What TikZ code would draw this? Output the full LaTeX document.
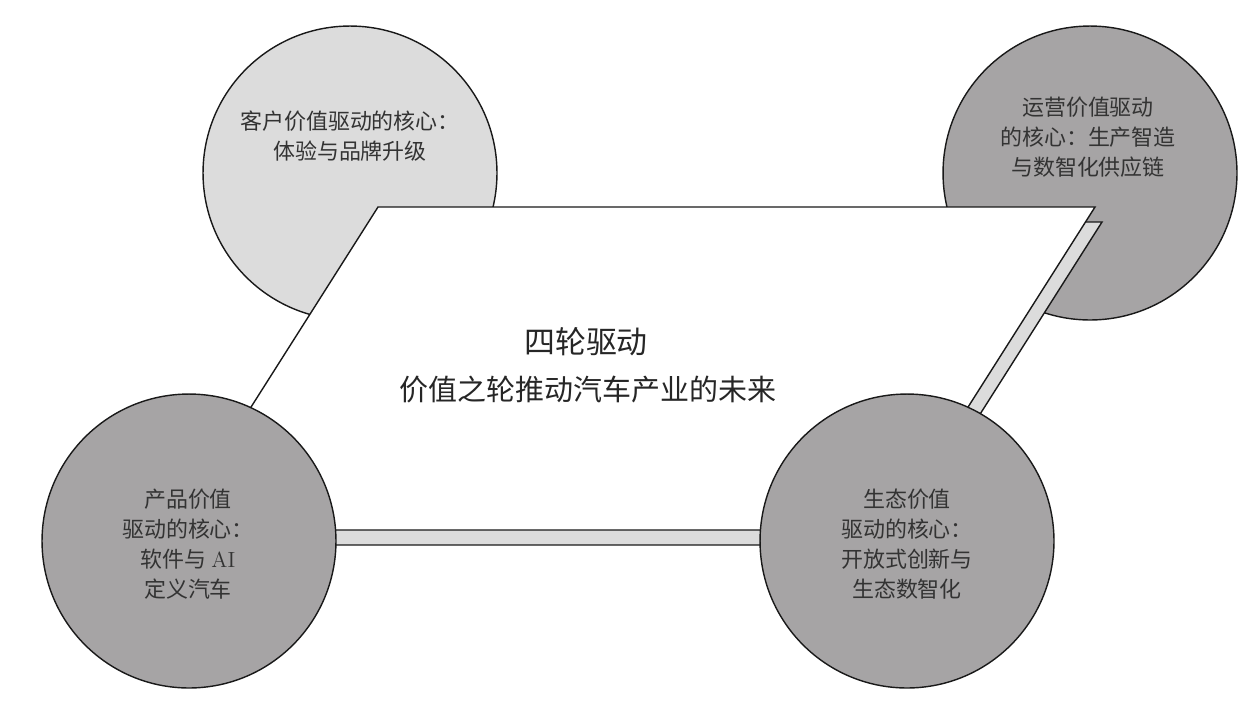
\documentclass[tikz,border=0pt]{standalone}
\usepackage{fontspec}
\newfontfamily\cjk{Noto Sans CJK SC}
\definecolor{wheellight}{HTML}{DCDCDC}
\definecolor{wheeldark}{HTML}{A6A4A5}
\begin{document}
\begin{tikzpicture}[x=0.02cm,y=-0.02cm,
    wheel/.style={circle,draw=black!90,line width=0.8pt,minimum size=5.88cm,inner sep=0pt},
    wheeltext/.style={align=center,text=black!80,font=\cjk\fontsize{12.5}{17}\selectfont},
    slab/.style={draw=black!90,line width=0.8pt,line join=miter}]
    \useasboundingbox (0,0) rectangle (1260,708);

%top wheels
    \node[wheel,fill=wheellight] (cust) at (350,173) {};
    \node[wheel,fill=wheeldark] (oper) at (1090,173) {};

%slab
    \coordinate (tl) at (378,207);
    \coordinate (tr) at (1095,207);
    \coordinate (br) at (890,530);
    \coordinate (bl) at (173,530);
    \draw[slab,fill=wheellight] ([shift={(7,15)}]tl) -- ([shift={(7,15)}]tr) -- ([shift={(7,15)}]br) -- ([shift={(7,15)}]bl) -- cycle;
    \draw[slab,fill=white] (tl) -- (tr) -- (br) -- (bl) -- cycle;

%bottom wheels
    \node[wheel,fill=wheeldark] (prod) at (189,541) {};
    \node[wheel,fill=wheeldark] (eco) at (907,541) {};

%texts
    \node[wheeltext] (custtext) at (350,136) {客户价值驱动的核心：\\体验与品牌升级};
    \node[wheeltext] (opertext) at (1088,137) {运营价值驱动\\的核心：生产智造\\与数智化供应链};
    \node[wheeltext] (prodtext) at (188,544) {产品价值\\驱动的核心：\\软件与 {\rmfamily AI}\\定义汽车};
    \node[wheeltext] (ecotext) at (907,544) {生态价值\\驱动的核心：\\开放式创新与\\生态数智化};
    \node[text=black!85,font=\cjk\fontsize{17.6}{20}\selectfont] (title) at (586,342) {四轮驱动};
    \node[text=black!85,font=\cjk\fontsize{16.5}{20}\selectfont] (subtitle) at (588,390) {价值之轮推动汽车产业的未来};
\end{tikzpicture}
\end{document}
